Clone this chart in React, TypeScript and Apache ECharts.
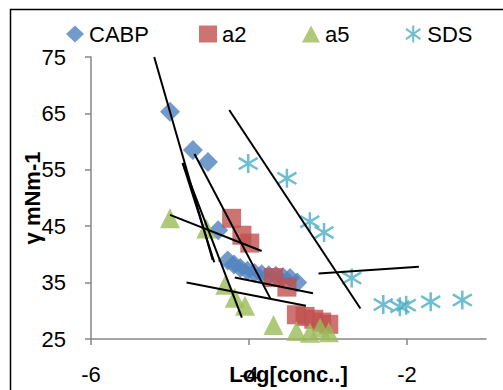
import React, { useEffect, useRef } from "react";
import * as echarts from "echarts";

const FONT = "'Liberation Sans', Arial, sans-serif";

const seriesNames = ["CABP", "a2", "a5", "SDS"];
const seriesColors = ["#4F81BD", "#C0504D", "#9BBB59", "#4BACC6"];

const xTicks = [-6, -4, -2];

const cabp: [number, number][] = [
  [-5.0, 65.3], [-4.71, 58.5], [-4.52, 56.4], [-4.39, 44.3],
  [-4.27, 38.9], [-4.19, 38.2], [-4.11, 37.6], [-4.02, 37.1],
  [-3.93, 36.7], [-3.84, 36.5], [-3.75, 36.3], [-3.66, 36.2],
  [-3.57, 36.0], [-3.48, 35.8], [-3.39, 35.0],
];

const a2: [number, number][] = [
  [-4.22, 46.4], [-4.09, 43.4], [-3.99, 42.0], [-3.69, 35.9],
  [-3.52, 34.2], [-3.40, 29.3], [-3.29, 29.0], [-3.18, 28.5],
  [-3.08, 28.0], [-2.99, 27.6],
];

const a5: [number, number][] = [
  [-5.0, 46.4], [-4.54, 44.6], [-4.30, 34.6], [-4.18, 32.3],
  [-4.05, 30.9], [-3.69, 27.5], [-3.40, 26.4], [-3.23, 26.1],
  [-3.10, 27.0], [-2.99, 26.2],
];

const sds: [number, number][] = [
  [-4.01, 56.1], [-3.52, 53.5], [-3.23, 45.8], [-3.05, 43.9],
  [-2.70, 35.8], [-2.30, 31.1], [-2.09, 30.7], [-2.01, 31.0],
  [-1.70, 31.6], [-1.30, 31.9],
];

const trendLines: [number, number][][] = [
  [[-5.20, 75.0], [-4.46, 39.0]],
  [[-4.84, 56.2], [-4.44, 38.6]],
  [[-4.84, 56.2], [-4.09, 28.8]],
  [[-4.69, 57.8], [-3.73, 32.2]],
  [[-4.25, 65.6], [-2.59, 30.4]],
  [[-5.0, 47.0], [-3.84, 40.6]],
  [[-4.79, 35.0], [-3.28, 30.9]],
  [[-4.18, 35.9], [-3.19, 33.1]],
  [[-3.12, 36.6], [-1.85, 37.8]],
];

const STAR = "path://M10,0L10,20M1.5,4L18.5,16M1.5,16L18.5,4";

const legendLefts = [61, 194, 297, 400];

export default function App() {
  const ref = useRef<HTMLDivElement>(null);

  useEffect(() => {
    const chart = echarts.init(ref.current!, null, { renderer: "svg" });
    const dataSets = [cabp, a2, a5, sds];
    const symbols = ["diamond", "rect", "triangle", STAR];
    const sizes = [20, 19, 20, 19];

    const scatterSeries = seriesNames.map((name, i) => ({
      type: "scatter",
      name,
      data: dataSets[i],
      symbol: symbols[i],
      symbolSize: sizes[i],
      itemStyle:
        i === 3
          ? { color: seriesColors[i], borderColor: seriesColors[i], borderWidth: 2.5 }
          : { color: seriesColors[i] },
      z: 2,
    }));

    const lineSeries = trendLines.map((pts, i) => ({
      type: "line",
      name: "trend" + i,
      data: pts,
      symbol: "none",
      lineStyle: { color: "#000", width: 2 },
      z: 5,
      silent: true,
    }));

    const axisName = { fontSize: 22, fontWeight: "bold", color: "#000", fontFamily: FONT };

    chart.setOption({
      animation: false,
      backgroundColor: "#fff",
      textStyle: { fontFamily: FONT },
      legend: seriesNames.map((name, i) => ({
        data: [name],
        left: legendLefts[i],
        top: 18,
        itemWidth: 18,
        itemHeight: 17,
        itemGap: 5,
        textStyle: { fontSize: 22, color: "#000", fontFamily: FONT },
        selectedMode: false,
      })),
      grid: { left: 91, right: 17, top: 57, bottom: 51, outerBoundsMode: "none", containLabel: false },
      xAxis: {
        type: "value",
        min: -6,
        max: -1,
        interval: 2,
        name: "Log[conc..]",
        nameLocation: "middle",
        nameGap: 24,
        nameMoveOverlap: false,
        nameTextStyle: axisName,
        axisLine: { show: true, onZero: false, lineStyle: { color: "#868686", width: 1.5 } },
        axisTick: { show: true, length: 6, customValues: xTicks, lineStyle: { color: "#868686", width: 1.5 } },
        axisLabel: { fontSize: 22, color: "#000", margin: 24, customValues: xTicks, fontFamily: FONT },
        splitLine: { show: false },
      },
      yAxis: {
        type: "value",
        min: 25,
        max: 75,
        interval: 10,
        name: "γ mNm-1",
        nameLocation: "middle",
        nameGap: 48,
        nameMoveOverlap: false,
        nameTextStyle: axisName,
        axisLine: { show: true, lineStyle: { color: "#868686", width: 1.5 } },
        axisTick: { show: true, length: 6, lineStyle: { color: "#868686", width: 1.5 } },
        axisLabel: { fontSize: 22, color: "#000", margin: 25, fontFamily: FONT },
        splitLine: { show: false },
      },
      graphic: [
        {
          type: "rect",
          shape: { x: 10.5, y: 9.5, width: 520, height: 420 },
          style: { fill: "none", stroke: "#000", lineWidth: 1.5 },
          silent: true,
          z: 100,
        },
      ],
      series: [...scatterSeries, ...lineSeries],
    });
    return () => chart.dispose();
  }, []);

  return (
    <div
      ref={ref}
      style={{ position: "fixed", left: 0, top: 0, width: 503, height: 390, background: "#fff" }}
    />
  );
}
